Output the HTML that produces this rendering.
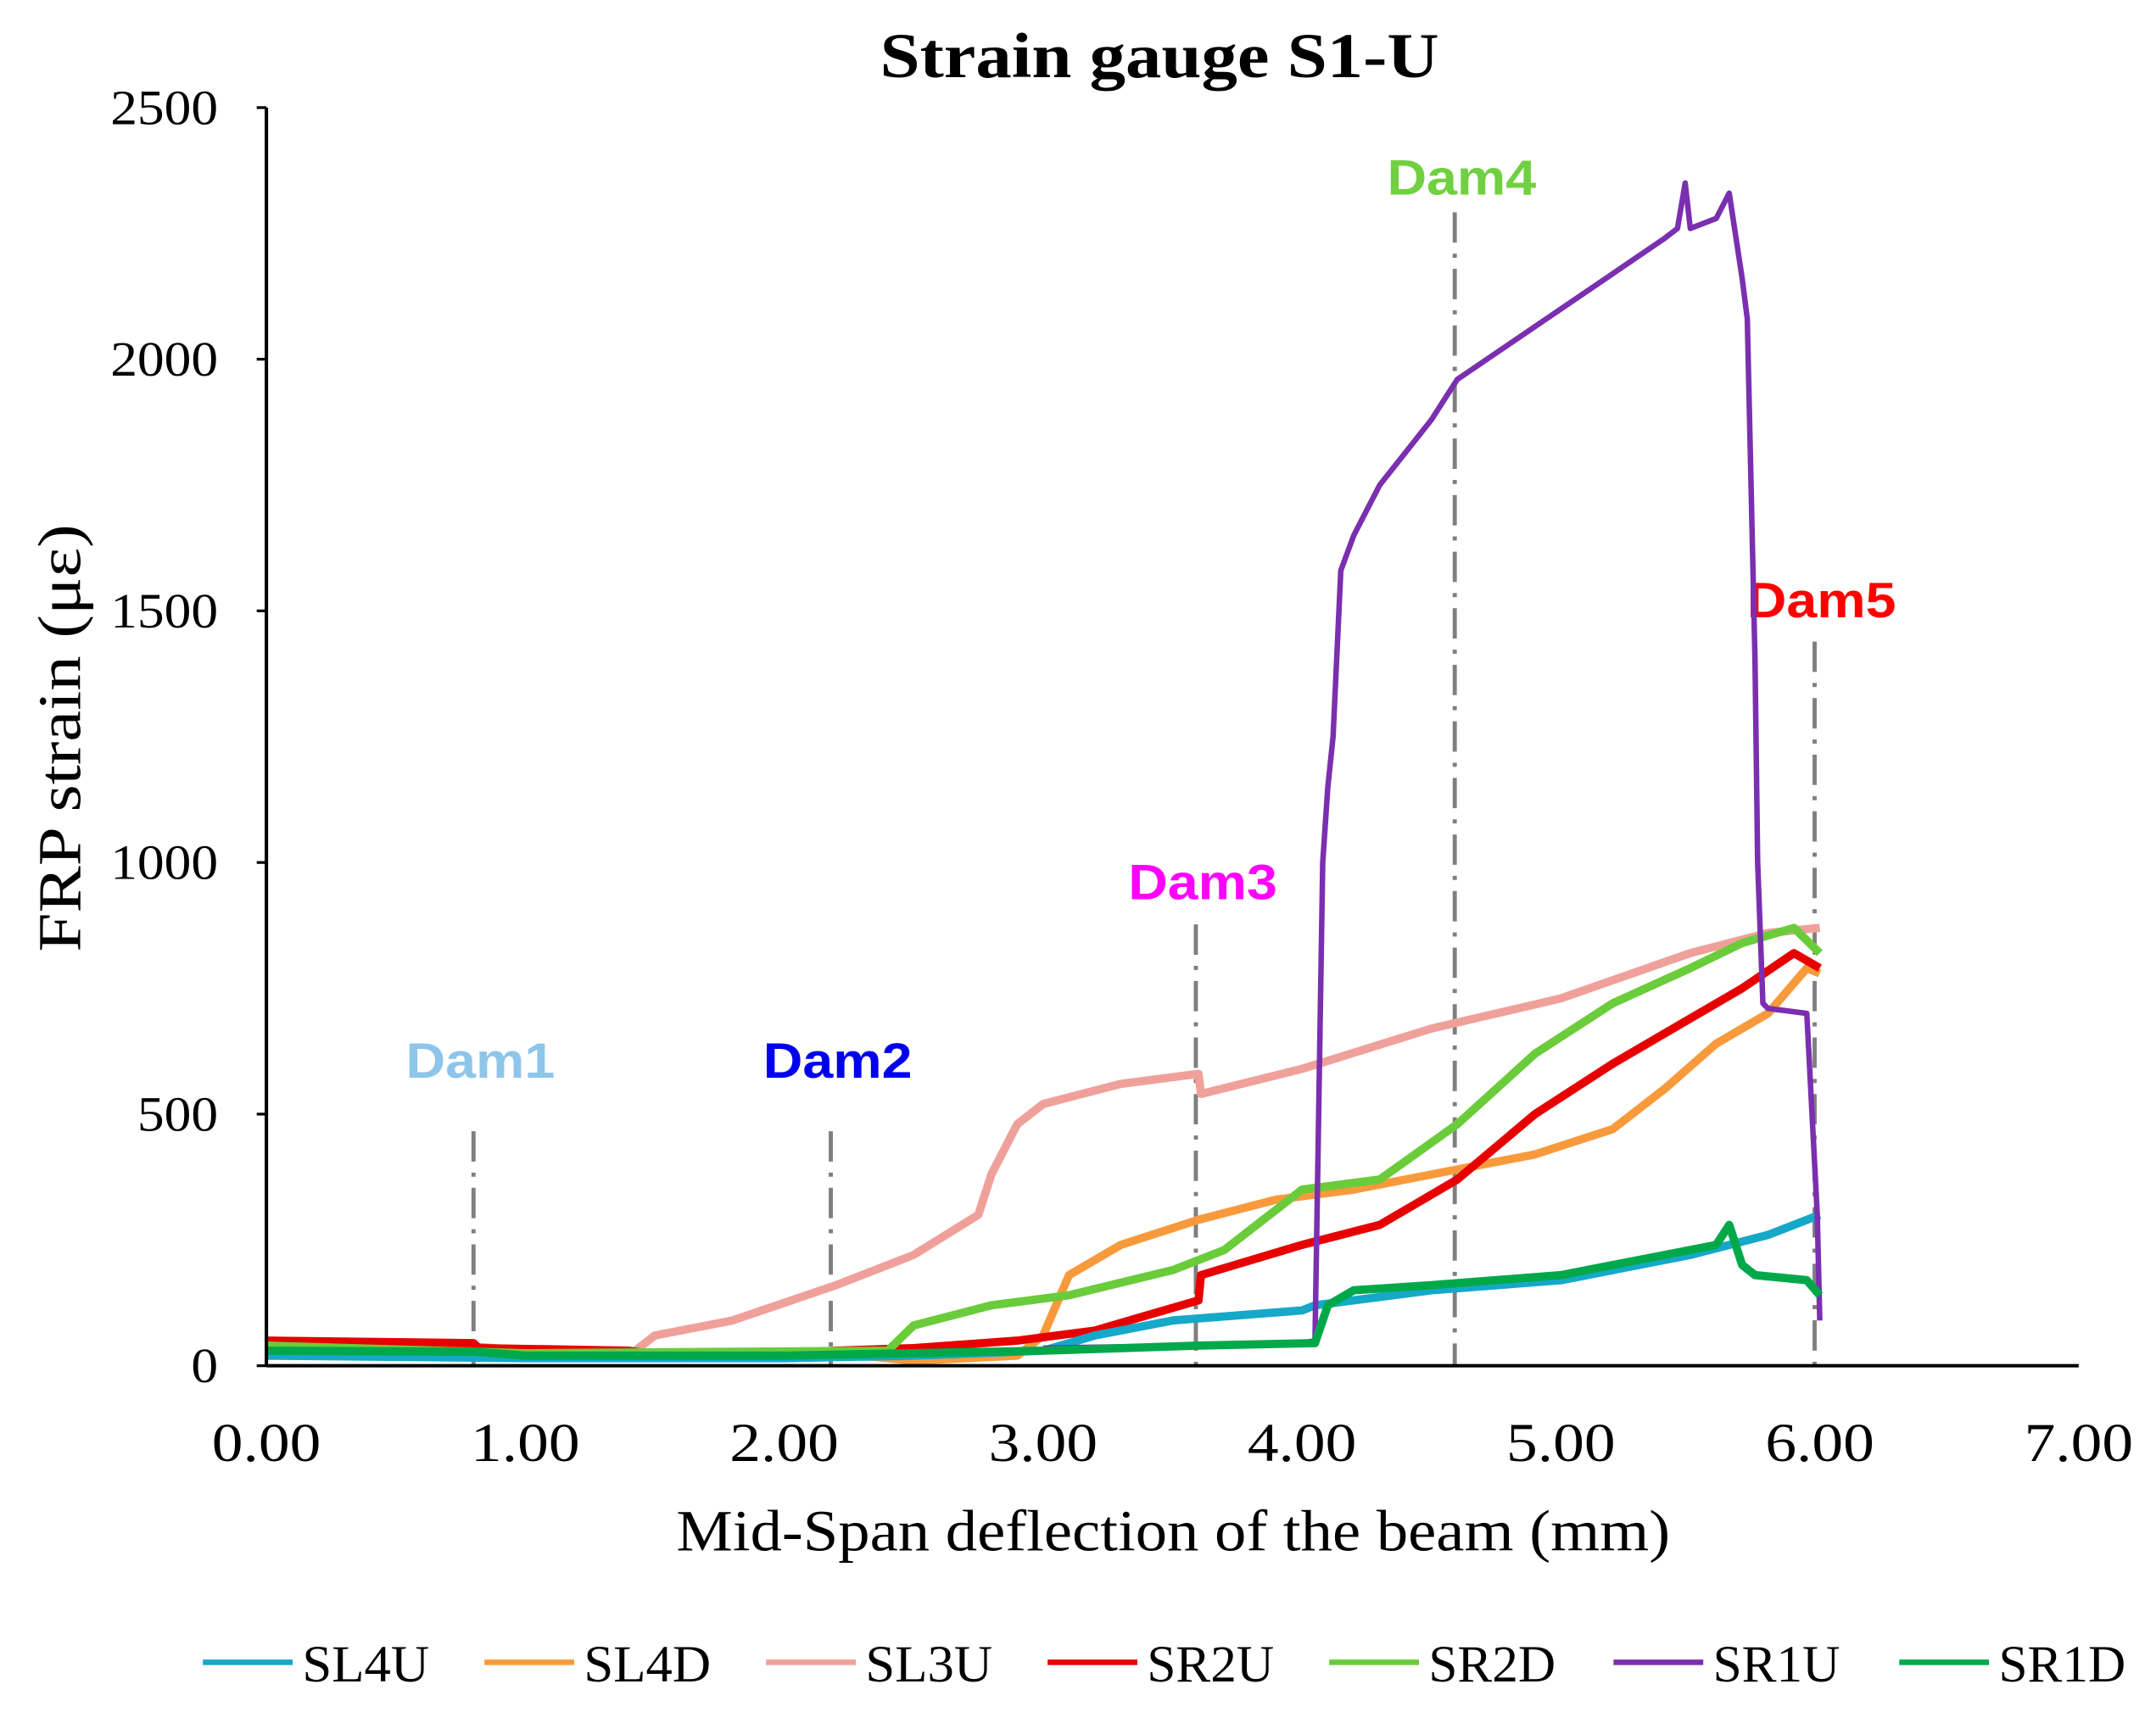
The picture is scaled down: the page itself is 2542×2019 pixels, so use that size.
<!DOCTYPE html>
<html><head><meta charset="utf-8"><style>
html,body{margin:0;padding:0;background:#fff;}
svg{display:block;}
text{font-family:"Liberation Serif",serif;}
.cal{font-family:"Liberation Sans",sans-serif;font-weight:bold;}
</style></head><body>
<svg id="chart" width="2542" height="2019" viewBox="0 0 1562 1241" preserveAspectRatio="none" xmlns="http://www.w3.org/2000/svg">
<rect width="1562" height="1241" fill="#fff"/>
<text x="840" y="56" text-anchor="middle" font-size="46" font-weight="bold" textLength="405" lengthAdjust="spacingAndGlyphs">Strain gauge S1-U</text>
<g id="grid"></g>
<g id="series"></g>
<g id="axes"></g>
<g id="legend"></g>
<text transform="translate(58,535) rotate(-90)" text-anchor="middle" font-size="44" textLength="310" lengthAdjust="spacingAndGlyphs">FRP strain (με)</text>
<text x="850" y="1124" text-anchor="middle" font-size="42" textLength="720" lengthAdjust="spacingAndGlyphs">Mid-Span deflection of the beam (mm)</text>
</svg>
<script>
const xTicks=[0,1,2,3,4,5,6,7];
const xTickLabels=["0.00","1.00","2.00","3.00","4.00","5.00","6.00","7.00"];
const yTicks=[0,500,1000,1500,2000,2500];
const yTickLabels=["0","500","1000","1500","2000","2500"];
const seriesNames=["SL4U","SL4D","SL3U","SR2U","SR2D","SR1U","SR1D"];
const seriesColors=["#16a8c8","#f89a3c","#f0a09a","#e60000","#6acc3a","#7a2fb0","#00a84a"];
const sl4uX=[0,1,2,2.5,3.0,3.2,3.5,4.0,4.05,4.5,5.0,5.5,5.8,6.0];
const sl4uY=[20,15,15,20,30,60,90,110,120,150,170,220,260,300];
const sl4dX=[0,0.8,1.0,2.3,2.5,2.9,3.0,3.1,3.3,3.6,3.9,4.2,4.6,4.9,5.2,5.4,5.6,5.8,5.95,6.0];
const sl4dY=[40,38,30,20,10,20,60,180,240,290,330,350,390,420,470,550,640,700,790,780];
const sl3uX=[0,0.8,1.4,1.5,1.8,2.2,2.5,2.75,2.8,2.9,3.0,3.3,3.6,3.61,4.0,4.5,5.0,5.5,5.8,6.0];
const sl3uY=[30,25,20,60,90,160,220,300,380,480,520,560,580,540,590,670,730,820,860,870];
const sr2uX=[0,0.8,0.82,1.4,1.6,2.2,2.5,2.9,3.2,3.4,3.6,3.61,4.0,4.3,4.6,4.9,5.2,5.5,5.7,5.9,6.0];
const sr2uY=[50,45,35,30,15,30,35,50,70,100,130,180,240,280,370,500,600,690,750,820,790];
const sr2dX=[0,1,2.4,2.5,2.8,3.1,3.5,3.7,4.0,4.3,4.6,4.9,5.2,5.5,5.7,5.9,6.0];
const sr2dY=[40,25,30,80,120,140,190,230,350,370,480,620,720,790,840,870,820];
const sr1uX=[3.0,3.6,4.0,4.05,4.08,4.1,4.12,4.15,4.2,4.3,4.5,4.6,4.8,5.0,5.2,5.4,5.45,5.48,5.5,5.6,5.65,5.7,5.72,5.75,5.76,5.78,5.8,5.95,5.99,6.0];
const sr1uY=[35,40,45,50,1000,1150,1250,1580,1650,1750,1880,1960,2030,2100,2170,2240,2260,2350,2260,2280,2330,2160,2080,1400,1000,720,710,700,300,90];
const sr1dX=[0,0.8,1,2,3,3.6,4.05,4.1,4.2,4.5,5.0,5.4,5.6,5.65,5.7,5.75,5.95,6.0];
const sr1dY=[30,28,20,20,30,40,45,120,150,160,180,220,240,280,200,180,170,140];
const damNames=["Dam1","Dam2","Dam3","Dam4","Dam5"];
const damX=[0.80,2.18,3.59,4.59,5.98];
const damTop=[466,466,877,2292,1439];
const damLabelY=[605,605,960,2360,1520];
const damColors=["#8ec5ea","#0000ee","#ff00ff","#70d040","#ff0000"];

const X0=193,X1=1506,Y0=990,Y1=78;
const sx=v=>X0+(v/7)*(X1-X0);
const sy=v=>Y0-(v/2500)*(Y0-Y1);
const NS="http://www.w3.org/2000/svg";
function mk(t,a,p){const e=document.createElementNS(NS,t);for(const k in a)e.setAttribute(k,a[k]);p.appendChild(e);return e;}
const grid=document.getElementById('grid'),ser=document.getElementById('series'),axes=document.getElementById('axes'),leg=document.getElementById('legend');

damNames.forEach((n,i)=>{
 const l=mk('line',{x1:sx(damX[i]),x2:sx(damX[i]),y1:sy(damTop[i]),y2:Y0,stroke:'#7f7f7f','stroke-width':3,'stroke-dasharray':'22,8,3,8'},grid);
 
 
 const t=mk('text',{x:sx(damX[i])+5,y:sy(damLabelY[i])+12,'text-anchor':'middle','font-size':36,fill:damColors[i],class:'cal',textLength:108,lengthAdjust:'spacingAndGlyphs'},grid);
 t.textContent=n;
 
 
});

const allX=[sl4uX,sl4dX,sl3uX,sr2uX,sr2dX,sr1uX,sr1dX];
const allY=[sl4uY,sl4dY,sl3uY,sr2uY,sr2dY,sr1uY,sr1dY];
const order=[2,1,3,4,0,5,6];
order.forEach(i=>{
 const d=allX[i].map((x,j)=>(j?'L':'M')+sx(x).toFixed(1)+','+sy(allY[i][j]).toFixed(1)).join('');
 const p=mk('path',{d:d,fill:'none',stroke:seriesColors[i],'stroke-width':i===5?4:6,'stroke-linejoin':'round'},ser);
 
 
});

const ya=mk('line',{x1:X0,x2:X0,y1:Y1,y2:Y0,stroke:'#000','stroke-width':2.5},axes);


const xa=mk('line',{x1:X0,x2:X1,y1:Y0,y2:Y0,stroke:'#000','stroke-width':2.5},axes);


yTicks.forEach((v,i)=>{
 mk('line',{x1:X0-7,x2:X0,y1:sy(v),y2:sy(v),stroke:'#000','stroke-width':2},axes);
 const t=mk('text',{x:158,y:sy(v)+12,'text-anchor':'end','font-size':36,textLength:yTickLabels[i].length*19.5,lengthAdjust:'spacingAndGlyphs'},axes);
 t.textContent=yTickLabels[i];
 
 
});
xTicks.forEach((v,i)=>{
 const t=mk('text',{x:sx(v),y:1059,'text-anchor':'middle','font-size':40,textLength:79,lengthAdjust:'spacingAndGlyphs'},axes);
 t.textContent=xTickLabels[i];
 
 
});

const legX=[147,351,555,759,963,1169,1376];
seriesNames.forEach((n,i)=>{
 const g=mk('g',{},leg);
 
 
 mk('line',{x1:legX[i],x2:legX[i]+65,y1:1205,y2:1205,stroke:seriesColors[i],'stroke-width':4},g);
 const t=mk('text',{x:legX[i]+72,y:1219,'font-size':38,textLength:92,lengthAdjust:'spacingAndGlyphs'},g);
 t.textContent=n;
});
</script>
</body></html>
